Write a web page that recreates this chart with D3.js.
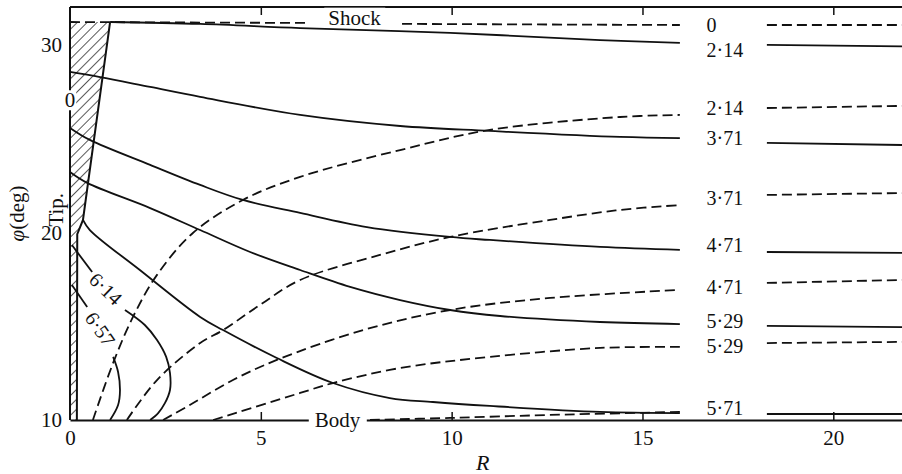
<!DOCTYPE html>
<html><head><meta charset="utf-8">
<script src="https://cdn.jsdelivr.net/npm/d3@7"></script>
<style>
html,body{margin:0;padding:0;background:#fff;}
svg{display:block;}
text{font-family:"Liberation Serif","DejaVu Serif",serif;fill:#111;}
</style></head>
<body>
<svg id="chart" width="902" height="474"></svg>
<script>
// ---------- data (R, phi in degrees) ----------
const xTicks = [0, 5, 10, 15, 20];
const yTicks = [10, 20, 30];

// solid contours (left part, up to the label gap)
const solid214 = [[1.05,31.2],[3.41,31.1],[6.03,30.88],[9.96,30.62],[13.89,30.24],[15.98,30.09]];
const solid371 = [[0,28.54],[0.79,28.27],[2.10,27.74],[3.41,27.21],[6.03,26.25],[8.65,25.66],[11.0,25.40],[14.41,25.08],[15.98,25.02]];
const solid471 = [[0,25.56],[0.52,24.92],[2.10,23.59],[3.41,22.52],[4.53,21.72],[6.03,21.03],[7.78,20.28],[9.96,19.75],[11.0,19.59],[13.89,19.22],[15.98,19.06]];
const solid529 = [[0,23.21],[0.45,22.63],[2.10,21.29],[3.41,20.12],[4.72,18.95],[6.03,17.99],[7.34,17.09],[8.65,16.39],[9.96,15.86],[11.27,15.54],[13.89,15.22],[15.98,15.11]];
const solid571 = [[0.34,20.66],[0.52,20.12],[1.83,17.99],[3.41,15.49],[4.01,14.79],[5.42,13.30],[6.89,11.97],[8.38,11.17],[9.51,10.96],[11.0,10.75],[13.89,10.43],[15.98,10.37]];
const solid614a = [[0.05,19.32],[0.58,17.88]];
const solid614b = [[1.44,15.86],[1.96,15.06],[2.28,14.26],[2.52,13.36],[2.62,12.50],[2.62,11.60],[2.49,10.91],[2.31,10.37],[2.10,10]];
const solid657a = [[0.05,17.19],[0.45,16.02]];
const solid657b = [[1.13,13.36],[1.26,12.56],[1.31,11.60],[1.26,10.80],[1.05,10]];

// dashed contours
const dashShockA = [[0,31.2],[6.21,31.15]];
const dashShockB = [[8.70,31.1],[15.98,31.04]];
const dash214 = [[0.60,10],[1.13,13.04],[1.65,15.49],[2.28,17.73],[3.22,19.96],[4.53,21.72],[6.03,22.95],[8.65,24.38],[11.0,25.45],[14.41,26.14],[15.98,26.25]];
const dash371 = [[1.49,10],[2.28,12.13],[3.41,14.10],[4.01,14.79],[4.98,16.13],[6.03,17.46],[8.12,18.79],[9.96,19.75],[12.58,20.66],[14.41,21.19],[15.98,21.45]];
const dash471 = [[2.44,10],[3.14,10.80],[4.27,12.13],[5.42,13.20],[7.68,14.79],[9.96,15.86],[12.58,16.50],[15.98,16.93]];
const dash529 = [[3.75,10],[6.03,11.44],[6.89,11.97],[8.65,12.77],[11.0,13.36],[13.89,13.84],[15.98,13.89]];
const dashBody = [[7.86,10],[9.96,10.11],[12.58,10.27],[15.98,10.43]];

// right-hand continuation segments (R from 18.26 to 21.8)
const rightR = [18.26, 21.8];
const rightSolidPhi = [[29.98,29.9],[24.76,24.65],[18.95,18.9],[15.01,14.95],[10.32,10.32]];
const rightDashPhi = [[31.04,31.04],[26.62,26.73],[21.99,22.09],[17.30,17.46],[14.10,14.16]];

// labels in the gap
const gapLabels = ["0","2·14","2·14","3·71","3·71","4·71","4·71","5·29","5·29","5·71"];
const gapLabelPhi = [31.04,29.71,26.62,25.02,21.83,19.32,17.09,15.3,13.95,10.64];
const gapLabelR = 16.68;

// wedge (hatched) outline
const wedge = [[0,31.2],[1.05,31.2],[0.34,20.66],[0.19,19.9],[0.18,10],[0,10]];

// ---------- drawing ----------
const svg = d3.select("#chart");
const W = 902, H = 474;
const x = d3.scaleLinear().domain([0, 21.8]).range([70, 902]);
const y = d3.scaleLinear().domain([10, 32]).range([420, 7]);

const defs = svg.append("defs");
const pat = defs.append("pattern").attr("id","hatch").attr("width",7).attr("height",7)
  .attr("patternUnits","userSpaceOnUse").attr("patternTransform","rotate(45)");
pat.append("line").attr("x1",0).attr("y1",0).attr("x2",0).attr("y2",7)
  .attr("stroke","#111").attr("stroke-width",1.4);

const line = d3.line().x(d=>x(d[0])).y(d=>y(d[1])).curve(d3.curveCatmullRom.alpha(0.5));
const lineLin = d3.line().x(d=>x(d[0])).y(d=>y(d[1]));

// wedge
svg.append("path").attr("d", lineLin(wedge)+"Z").attr("fill","url(#hatch)").attr("stroke","none");
svg.append("path").attr("d", lineLin(wedge.slice(1,5))).attr("fill","none")
  .attr("stroke","#111").attr("stroke-width",2);

// frame: top line and left axis line
svg.append("line").attr("x1",x(0)).attr("x2",W).attr("y1",y(32)).attr("y2",y(32))
  .attr("stroke","#111").attr("stroke-width",1.8);
svg.append("line").attr("x1",x(0)).attr("x2",x(0)).attr("y1",y(32)).attr("y2",y(10))
  .attr("stroke","#111").attr("stroke-width",2);

// bottom axis
const xAxis = d3.axisBottom(x).tickValues(xTicks).tickSizeInner(-8).tickSizeOuter(0).tickPadding(10)
  .tickFormat(d3.format("d"));
const gx = svg.append("g").attr("transform",`translate(0,${y(10)})`).call(xAxis);
gx.select(".domain").attr("stroke","#111").attr("stroke-width",1.8);
gx.selectAll(".tick line").attr("stroke","#111").attr("stroke-width",1.5);
gx.selectAll(".tick text").attr("font-size",21).attr("fill","#111");
gx.selectAll(".tick").filter(d=>d===0).select("line").remove();

// top ticks
const xTop = d3.axisTop(x).tickValues(xTicks.filter(d=>d>0)).tickSizeInner(-8).tickSizeOuter(0).tickFormat("");
const gt = svg.append("g").attr("transform",`translate(0,${y(32)})`).call(xTop);
gt.select(".domain").remove();
gt.selectAll(".tick line").attr("stroke","#111").attr("stroke-width",1.5);

// left axis labels
const yAxis = d3.axisLeft(y).tickValues(yTicks).tickSize(0).tickPadding(8).tickFormat(d3.format("d"));
const gy = svg.append("g").attr("transform",`translate(${x(0)},0)`).call(yAxis);
gy.select(".domain").remove();
gy.selectAll(".tick text").attr("font-size",21).attr("fill","#111");

// contours
const solidSets = [solid214, solid371, solid471, solid529, solid571, solid614a, solid614b, solid657a, solid657b];
svg.append("g").selectAll("path").data(solidSets).join("path")
  .attr("d", d=>line(d)).attr("fill","none").attr("stroke","#111").attr("stroke-width",1.8);

const dashSets = [dashShockA, dashShockB, dash214, dash371, dash471, dash529, dashBody];
svg.append("g").selectAll("path").data(dashSets).join("path")
  .attr("d", d=>line(d)).attr("fill","none").attr("stroke","#111").attr("stroke-width",1.8)
  .attr("stroke-dasharray","10,5");

// right continuation
svg.append("g").selectAll("path").data(rightSolidPhi).join("path")
  .attr("d", d=>lineLin([[rightR[0],d[0]],[rightR[1],d[1]]]))
  .attr("fill","none").attr("stroke","#111").attr("stroke-width",1.8);
svg.append("g").selectAll("path").data(rightDashPhi).join("path")
  .attr("d", d=>lineLin([[rightR[0],d[0]],[rightR[1],d[1]]]))
  .attr("fill","none").attr("stroke","#111").attr("stroke-width",1.8).attr("stroke-dasharray","10,5");

// gap labels
svg.append("g").selectAll("text").data(gapLabels).join("text")
  .attr("x", x(gapLabelR)).attr("y",(d,i)=>y(gapLabelPhi[i])).attr("dy","0.35em")
  .attr("font-size",20).text(d=>d);

// helper for text with white background
function boxedText(tx, ty, str, opts={}) {
  const g = svg.append("g");
  const r = g.append("rect").attr("fill","#fff");
  const t = g.append("text").attr("x",tx).attr("y",ty).attr("font-size",opts.size||21)
    .attr("text-anchor",opts.anchor||"middle").attr("dy","0.35em").text(str);
  const b = t.node().getBBox();
  const pad = opts.pad||4;
  r.attr("x",b.x-pad).attr("y",b.y+2).attr("width",b.width+2*pad).attr("height",b.height-4);
  return g;
}
boxedText((x(6.21)+x(8.70))/2, y(31.45), "Shock");
boxedText((x(6.21)+x(7.81))/2, y(10), "Body", {pad:6});
boxedText(x(0), y(27.05), "0", {pad:1});

// rotated labels
svg.append("text").attr("transform",`translate(${x(0.94)},${y(17.0)}) rotate(44)`)
  .attr("text-anchor","middle").attr("dy","0.35em").attr("font-size",20).text("6·14");
svg.append("text").attr("transform",`translate(${x(0.79)},${y(14.85)}) rotate(55)`)
  .attr("text-anchor","middle").attr("dy","0.35em").attr("font-size",20).text("6·57");
svg.append("text").attr("transform",`translate(${x(0)-7},${y(21.2)}) rotate(-90)`)
  .attr("text-anchor","middle").attr("dy","0")
  .attr("font-size",21).text("Tip.");

// axis titles
svg.append("text").attr("x",(x(10)+x(11))/2+12).attr("y",470).attr("text-anchor","middle")
  .attr("font-size",22).attr("font-style","italic").text("R");
const yt = svg.append("text").attr("transform",`translate(24,${y(21.0)}) rotate(-90)`)
  .attr("text-anchor","middle").attr("font-size",21);
yt.append("tspan").attr("font-style","italic").text("φ");
yt.append("tspan").text("(deg)");
</script>
</body></html>
